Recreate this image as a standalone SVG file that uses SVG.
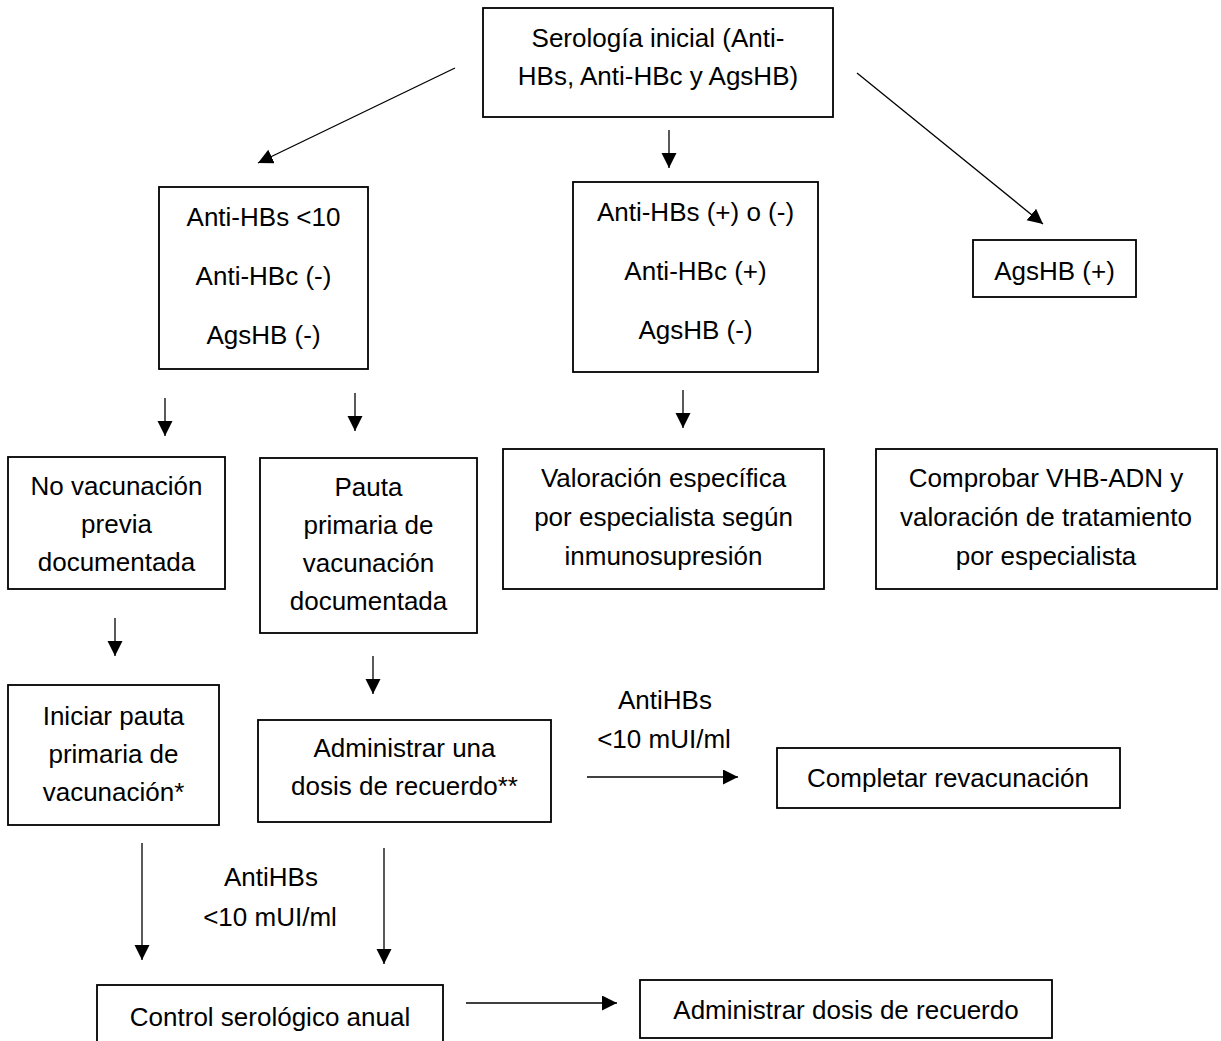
<svg xmlns="http://www.w3.org/2000/svg" width="1221" height="1041" viewBox="0 0 1221 1041">
<style>
.box{fill:#fff;stroke:#000;stroke-width:1.8}
.t{font-family:"Liberation Sans",Arial,sans-serif;font-size:26px;fill:#000;text-anchor:middle}
.c{stroke:#000;stroke-width:1.3;fill:none;marker-end:url(#ah)}
</style>
<defs>
<marker id="ah" markerUnits="userSpaceOnUse" markerWidth="16" markerHeight="16" refX="15" refY="7.5" orient="auto">
<path d="M0,0 L15,7.5 L0,15 z" fill="#000"/>
</marker>
</defs>
<rect width="1221" height="1041" fill="#fff"/>
<g id="n1"><rect class="box" x="483" y="8" width="350" height="109"/>
<text class="t" x="658" y="47">Serología inicial (Anti-</text>
<text class="t" x="658" y="85">HBs, Anti-HBc y AgsHB)</text></g>
<g id="n2"><rect class="box" x="159" y="187" width="209" height="182"/>
<text class="t" x="263.5" y="226">Anti-HBs &lt;10</text>
<text class="t" x="263.5" y="285">Anti-HBc (-)</text>
<text class="t" x="263.5" y="344">AgsHB (-)</text></g>
<g id="n3"><rect class="box" x="573" y="182" width="245" height="190"/>
<text class="t" x="695.5" y="221">Anti-HBs (+) o (-)</text>
<text class="t" x="695.5" y="280">Anti-HBc (+)</text>
<text class="t" x="695.5" y="339">AgsHB (-)</text></g>
<g id="n4"><rect class="box" x="973" y="240" width="163" height="57"/>
<text class="t" x="1054.5" y="280">AgsHB (+)</text></g>
<g id="n5"><rect class="box" x="8" y="457" width="217" height="132"/>
<text class="t" x="116.5" y="495">No vacunación</text>
<text class="t" x="116.5" y="533">previa</text>
<text class="t" x="116.5" y="571">documentada</text></g>
<g id="n6"><rect class="box" x="260" y="458" width="217" height="175"/>
<text class="t" x="368.5" y="496">Pauta</text>
<text class="t" x="368.5" y="534">primaria de</text>
<text class="t" x="368.5" y="572">vacunación</text>
<text class="t" x="368.5" y="610">documentada</text></g>
<g id="n7"><rect class="box" x="503" y="449" width="321" height="140"/>
<text class="t" x="663.5" y="487">Valoración específica</text>
<text class="t" x="663.5" y="526">por especialista según</text>
<text class="t" x="663.5" y="565">inmunosupresión</text></g>
<g id="n8"><rect class="box" x="876" y="449" width="341" height="140"/>
<text class="t" x="1046" y="487">Comprobar VHB-ADN y</text>
<text class="t" x="1046" y="526">valoración de tratamiento</text>
<text class="t" x="1046" y="565">por especialista</text></g>
<g id="n9"><rect class="box" x="8" y="685" width="211" height="140"/>
<text class="t" x="113.5" y="725">Iniciar pauta</text>
<text class="t" x="113.5" y="763">primaria de</text>
<text class="t" x="113.5" y="801">vacunación*</text></g>
<g id="n10"><rect class="box" x="258" y="720" width="293" height="102"/>
<text class="t" x="404.5" y="757">Administrar una</text>
<text class="t" x="404.5" y="795">dosis de recuerdo**</text></g>
<g id="n11"><rect class="box" x="777" y="748" width="343" height="60"/>
<text class="t" x="948" y="787">Completar revacunación</text></g>
<g id="n12"><rect class="box" x="97" y="985" width="346" height="70"/>
<text class="t" x="270" y="1026">Control serológico anual</text></g>
<g id="n13"><rect class="box" x="640" y="980" width="412" height="58"/>
<text class="t" x="846" y="1019">Administrar dosis de recuerdo</text></g>
<g id="connectors">
<line class="c" x1="455" y1="68" x2="258" y2="163"/>
<line class="c" x1="669" y1="130" x2="669" y2="168"/>
<line class="c" x1="857" y1="73" x2="1043" y2="224"/>
<line class="c" x1="165" y1="398" x2="165" y2="436"/>
<line class="c" x1="355" y1="393" x2="355" y2="431"/>
<line class="c" x1="683" y1="390" x2="683" y2="428"/>
<line class="c" x1="115" y1="618" x2="115" y2="656"/>
<line class="c" x1="373" y1="656" x2="373" y2="694"/>
<line class="c" x1="587" y1="777" x2="738" y2="777"/>
<line class="c" x1="142" y1="843" x2="142" y2="960"/>
<line class="c" x1="384" y1="848" x2="384" y2="964"/>
<line class="c" x1="466" y1="1003" x2="617" y2="1003"/>
<text class="t" x="665" y="709">AntiHBs</text>
<text class="t" x="664" y="748">&lt;10 mUI/ml</text>
<text class="t" x="271" y="886">AntiHBs</text>
<text class="t" x="270" y="926">&lt;10 mUI/ml</text>
</g>
</svg>
